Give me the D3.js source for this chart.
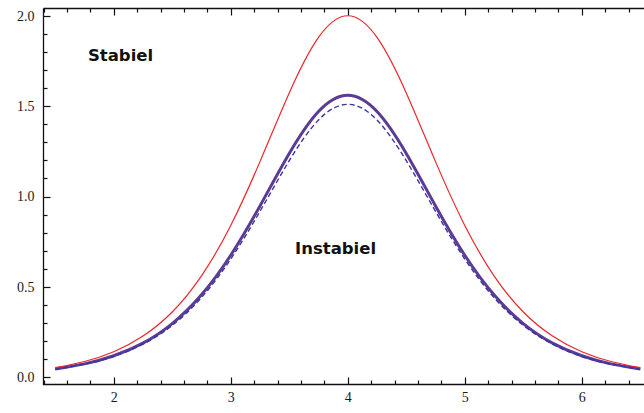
<!DOCTYPE html>
<html lang="en">
<head>
    <meta charset="UTF-8">
    <title>Stabiel / Instabiel</title>
    <script src="https://cdn.jsdelivr.net/npm/d3@7"></script>
</head>
<body style="margin:0; background-color:#FFFFFF;">
<script>

    // samples, x from 1.5 to 6.5 in steps of 0.25
    const xValues = [1.5, 1.75, 2, 2.25, 2.5, 2.75, 3, 3.25, 3.5, 3.75, 4,
        4.25, 4.5, 4.75, 5, 5.25, 5.5, 5.75, 6, 6.25, 6.5]
    const stable = [0.053, 0.087, 0.141, 0.228, 0.361, 0.561, 0.840, 1.193, 1.573, 1.880, 2.0,
        1.880, 1.573, 1.193, 0.840, 0.561, 0.361, 0.228, 0.141, 0.087, 0.053]
    const unstable = [0.046, 0.074, 0.119, 0.189, 0.297, 0.456, 0.675, 0.948, 1.238, 1.470, 1.56,
        1.470, 1.238, 0.948, 0.675, 0.456, 0.297, 0.189, 0.119, 0.074, 0.046]
    const unstableDashed = [0.044, 0.072, 0.115, 0.183, 0.287, 0.441, 0.654, 0.918, 1.198, 1.423, 1.51,
        1.423, 1.198, 0.918, 0.654, 0.441, 0.287, 0.183, 0.115, 0.072, 0.044]

    const xTicks = [2, 3, 4, 5, 6]
    const yTicks = [0, 0.5, 1.0, 1.5, 2.0]
    const xMinor = d3.range(1.4, 6.61, 0.2).filter(v => !xTicks.some(t => Math.abs(t - v) < 1e-6))
    const yMinor = d3.range(0, 2.01, 0.1).filter(v => !yTicks.some(t => Math.abs(t - v) < 1e-6))

    const labels = [
        {text: "Stabiel", x: 1.78, y: 1.747},
        {text: "Instabiel", x: 3.55, y: 0.683}
    ]

    const width = 644
    const height = 413
    const frameLeft = 43.5, frameRight = 652, frameTop = 8.5, frameBottom = 384.5

    const xScale = d3.scaleLinear().domain([1.4, 6.6]).range([frameLeft, frameRight])
    const yScale = d3.scaleLinear().domain([-0.04, 2.04]).range([frameBottom, frameTop])

    const svg = d3.select("body")
        .append("svg")
        .attr("width", width)
        .attr("height", height)
        .style("display", "block")
        .style("background-color", "#FFFFFF")

    const tickFont = "'Liberation Serif', 'DejaVu Serif', serif"
    const ink = "#111"

    const styleAxis = (g) => {
        g.select(".domain").remove()
        g.selectAll(".tick line").remove()
        g.selectAll("text")
            .attr("fill", "#1a1a1a")
            .style("font-family", tickFont)
            .style("font-size", "14px")
    }

    // tick labels
    svg.append("g")
        .attr("transform", `translate(0, ${frameBottom})`)
        .call(d3.axisBottom(xScale).tickValues(xTicks).tickSize(0).tickPadding(8).tickFormat(d3.format("d")))
        .call(styleAxis)
    svg.append("g")
        .attr("transform", `translate(${frameLeft}, 0)`)
        .call(d3.axisLeft(yScale).tickValues(yTicks).tickSize(0).tickPadding(9).tickFormat(d3.format(".1f")))
        .call(styleAxis)

    // tick marks, pointing into the frame
    const tickLayer = svg.append("g")
        .attr("stroke", ink)
        .attr("stroke-width", 1.2)

    const xTickData = xTicks.map(v => ({v, len: 7})).concat(xMinor.map(v => ({v, len: 4})))
    const yTickData = yTicks.map(v => ({v, len: 7})).concat(yMinor.map(v => ({v, len: 4})))

    tickLayer.selectAll("line.xb")
        .data(xTickData)
        .enter()
        .append("line")
        .attr("class", "xb")
        .attr("x1", d => Math.round(xScale(d.v)) + 0.5)
        .attr("x2", d => Math.round(xScale(d.v)) + 0.5)
        .attr("y1", frameBottom)
        .attr("y2", d => frameBottom - d.len)

    tickLayer.selectAll("line.xt")
        .data(xTickData)
        .enter()
        .append("line")
        .attr("class", "xt")
        .attr("x1", d => Math.round(xScale(d.v)) + 0.5)
        .attr("x2", d => Math.round(xScale(d.v)) + 0.5)
        .attr("y1", frameTop)
        .attr("y2", d => frameTop + d.len)

    tickLayer.selectAll("line.yl")
        .data(yTickData)
        .enter()
        .append("line")
        .attr("class", "yl")
        .attr("x1", frameLeft)
        .attr("x2", d => frameLeft + d.len)
        .attr("y1", d => Math.round(yScale(d.v)) + 0.5)
        .attr("y2", d => Math.round(yScale(d.v)) + 0.5)

    // frame
    svg.append("path")
        .attr("d", `M${frameLeft},${frameTop}H${frameRight}M${frameLeft},${frameTop}V${frameBottom}H${frameRight}`)
        .attr("fill", "none")
        .attr("stroke", ink)
        .attr("stroke-width", 1.3)

    const line = (values) => d3.line()
        .x((d, i) => xScale(xValues[i]))
        .y((d) => yScale(d))
        .curve(d3.curveNatural)(values)

    svg.append("path")
        .attr("d", line(unstable))
        .attr("fill", "none")
        .attr("stroke", "#5b3b93")
        .attr("stroke-width", 3)

    svg.append("path")
        .attr("d", line(unstableDashed))
        .attr("fill", "none")
        .attr("stroke", "#3535a8")
        .attr("stroke-width", 1.4)
        .attr("stroke-dasharray", "5,3")

    svg.append("path")
        .attr("d", line(stable))
        .attr("fill", "none")
        .attr("stroke", "#e8282c")
        .attr("stroke-width", 1.2)

    svg.selectAll("text.label")
        .data(labels)
        .enter()
        .append("text")
        .attr("class", "label")
        .attr("x", d => xScale(d.x))
        .attr("y", d => yScale(d.y))
        .attr("fill", "#111")
        .style("font-family", "'DejaVu Sans', sans-serif")
        .style("font-weight", "bold")
        .style("font-size", "16.5px")
        .text(d => d.text)

</script>
</body>
</html>
